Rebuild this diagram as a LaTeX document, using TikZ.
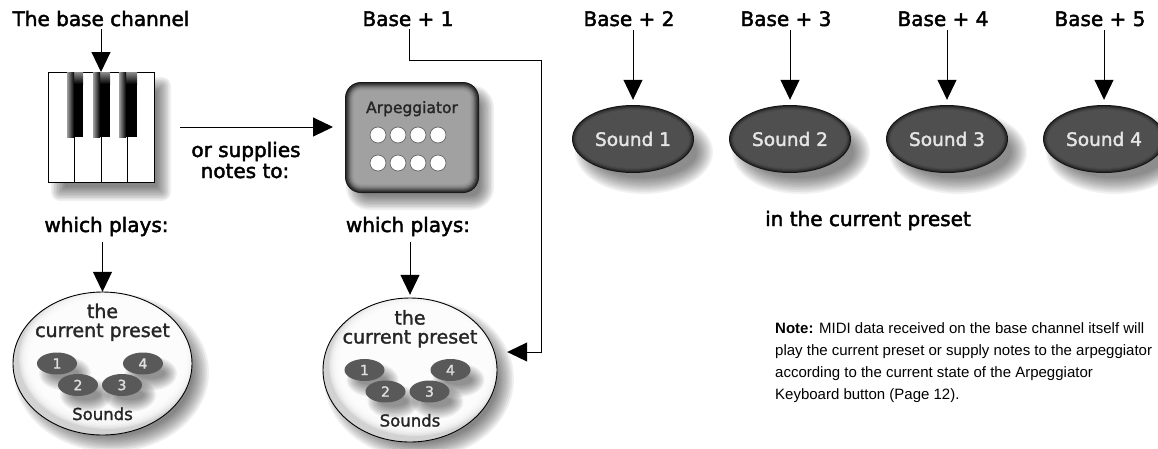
\documentclass[tikz,border=0pt]{standalone}
\usepackage{fontspec}
\setmainfont{DejaVu Sans}[FakeBold=2.2]
\newfontfamily\notefont{Liberation Sans}
\newfontfamily\techfont[FakeBold=1.6]{DejaVu Sans}
\newfontfamily\btnfont[FakeBold=2.0]{DejaVu Sans}
\usetikzlibrary{arrows.meta,shapes.geometric}

% soft shadow under an ellipse: centre x, centre y, rx, ry, blur, layer opacity
\newcommand\ellshadow[6]{%
  \foreach \k in {0,...,9}{%
    \pgfmathsetmacro\rxs{#3+#5*(1-\k/4.5)}%
    \pgfmathsetmacro\rys{#4+#5*(1-\k/4.5)}%
    \fill[black, opacity=#6] (#1,#2) ellipse [x radius=\rxs pt, y radius=\rys pt];
  }}

% soft shadow under a (rounded) rectangle: x1, y1, x2, y2, blur, corner, layer opacity
\newcommand\rectshadow[7]{%
  \foreach \k in {0,...,9}{%
    \pgfmathsetmacro\dd{#5*(1-\k/4.5)}%
    \pgfmathsetmacro\rc{max(#6+\dd,0.5)}%
    \fill[black, opacity=#7, rounded corners=\rc pt]
      ({#1-(\dd)},{#2-(\dd)}) rectangle ({#3+(\dd)},{#4+(\dd)});
  }}

% dark oval button with a caption: centre x, centre y, node name, caption
\newcommand\soundbtn[4]{%
  \ellshadow{#1+11}{#2+13}{61}{34}{8}{0.055}
  \foreach \k/\c in {0/92,1/84,2/78,3/74,4/71,5/69}{%
    \pgfmathsetmacro\rxs{61-\k}\pgfmathsetmacro\rys{34-\k}%
    \fill[black!\c] (#1,#2) ellipse [x radius=\rxs pt, y radius=\rys pt];}
  \node[ellipse, minimum width=122pt, minimum height=68pt, inner sep=0pt,
        text=white!90!black, font=\btnfont\fontsize{18.5}{20}\selectfont] (#3) at (#1,#2) {#4};
}

% white dome holding the preset with its four sounds: centre x, centre y, rx, ry, name
\newcommand\presetdome[5]{%
  \ellshadow{#1+9}{#2+9}{#3}{#4}{8}{0.06}
  \fill[white] (#1,#2) ellipse [x radius=#3pt, y radius=#4pt];
  \begin{scope}
    \clip (#1,#2) ellipse [x radius=#3pt, y radius=#4pt];
    \fill[gray!35] (#1,#2) ellipse [x radius=#3pt, y radius=#4pt];
    \foreach \k in {0,...,9}{%
      \pgfmathsetmacro\rxs{#3-1-1.3*\k}\pgfmathsetmacro\rys{#4-1-1.3*\k}%
      \fill[white, opacity=0.3] ({#1+5},{#2-5}) ellipse [x radius=\rxs pt, y radius=\rys pt];}
  \end{scope}
  \draw[line width=0.9pt] (#1,#2) ellipse [x radius=#3pt, y radius=#4pt];
  \pgfmathsetmacro\pw{2*#3}\pgfmathsetmacro\ph{2*#4}%
  \node[ellipse, inner sep=0pt, minimum width=\pw pt, minimum height=\ph pt] (#5) at (#1,#2) {};
  \node[techlbl] (#5the) at (#1,{#2-45.5}) {the};
  \node[techlbl] (#5cur) at (#1,{#2-26.5}) {current preset};
  \node[techlbl, font=\techfont\fontsize{16.5}{18}\selectfont] (#5snd) at (#1,{#2+56.5}) {Sounds};
  \foreach \dx/\dy in {-45.5/0, -24.5/21.5, 19.5/21.5, 40.5/0}{%
    \ellshadow{#1+\dx+8}{#2+\dy+10}{20}{11}{6}{0.05}}
  \foreach \dx/\dy/\n in {-45.5/0/1, -24.5/21.5/2, 19.5/21.5/3, 40.5/0/4}{%
    \node[ellipse, minimum width=40pt, minimum height=22pt, inner sep=0pt, fill=black!65,
          text=white!88!black, font=\techfont\fontsize{14}{14}\selectfont]
          (#5s\n) at ({#1+\dx},{#2+\dy}) {\n};}
}

\tikzset{
  lbl/.style={font=\fontsize{20}{24}\selectfont, inner sep=0pt, anchor=base},
  techlbl/.style={font=\techfont\fontsize{19}{22}\selectfont, inner sep=0pt, anchor=base, text=black!85},
  notetxt/.style={font=\notefont\fontsize{15}{18}\selectfont, inner sep=0pt, anchor=base west},
  arr/.style={line width=1pt, -{Triangle[length=20pt,width=19pt]}},
  holder/.style={inner sep=0pt, outer sep=0pt},
}

\begin{document}
\begin{tikzpicture}[x=1pt,y=-1pt]
\useasboundingbox (0,0) rectangle (1158,448);
\fill[white] (0,0) rectangle (1158,448);

% ---------- keyboard ----------
\rectshadow{58}{84}{164}{194}{7}{2}{0.06}
\fill[white] (48,72) rectangle (154,182);
\draw[line width=0.9pt] (48,72) rectangle (154,182);
\foreach \x in {74.5,101,127.5} \draw[line width=0.9pt] (\x,137) -- (\x,182);
\foreach \a/\b in {67/83,93/110,119/137}{%
  \fill[black] (\a,72) rectangle (\b,137);
  \shade[top color=gray!70, bottom color=black, opacity=0.85] (\a,72) rectangle (\b,84);
  \shade[left color=gray!75, right color=black] (\a,72) rectangle ({\a+7},137);
}
\node[holder, minimum width=106pt, minimum height=110pt] (kb) at (101,127) {};

% ---------- arpeggiator ----------
\rectshadow{353}{92}{487}{203}{7}{16}{0.06}
\foreach \k/\c in {0/90,1/82,2/74,3/66,4/58,5/51,6/46,7/42,8/39,9/37}{%
  \pgfmathsetmacro\rr{16-\k}%
  \fill[black!\c, rounded corners=\rr pt] ({345+\k},{82+\k}) rectangle ({479-\k},{193-\k});}
\node[holder, minimum width=134pt, minimum height=111pt] (arp) at (412,137.5) {};
\node[techlbl, font=\techfont\fontsize{15.5}{18}\selectfont] (arpname) at (412,113) {Arpeggiator};
\foreach \x in {378,398,418,438}
  \foreach \y in {135,163}
    \filldraw[fill=white, draw=black!60, line width=0.7pt] (\x,\y) circle [radius=8pt];

% ---------- sound buttons ----------
\soundbtn{633}{139}{s1}{Sound 1}
\soundbtn{790}{139}{s2}{Sound 2}
\soundbtn{947}{139}{s3}{Sound 3}
\soundbtn{1104}{139}{s4}{Sound 4}

% ---------- preset domes ----------
\presetdome{102.5}{363.5}{89.5}{71.5}{pa}
\presetdome{410}{370}{87}{72}{pb}

% ---------- labels ----------
\node[lbl] (bch) at (101,26) {The base channel};
\node[lbl] (b1) at (408,26) {Base + 1};
\node[lbl] (b2) at (629,26) {Base + 2};
\node[lbl] (b3) at (786,26) {Base + 3};
\node[lbl] (b4) at (943,26) {Base + 4};
\node[lbl] (b5) at (1100,26) {Base + 5};
\node[lbl] (or1) at (246,157) {or supplies};
\node[lbl] (or2) at (245,178) {notes to:};
\node[lbl] (wp1) at (106.5,232) {which plays:};
\node[lbl] (wp2) at (408,232) {which plays:};
\node[lbl] (cur) at (868,226) {in the current preset};

\node[notetxt] (n1) at (775,333) {\textbf{Note:} MIDI data received on the base channel itself will};
\node[notetxt] (n2) at (775,355) {play the current preset or supply notes to the arpeggiator};
\node[notetxt] (n3) at (775,377) {according to the current state of the Arpeggiator};
\node[notetxt] (n4) at (775,399) {Keyboard button (Page 12).};

% ---------- connectors ----------
\draw[arr, shorten <=3pt] (kb.north |- bch.south) -- (kb.north);
\draw[arr, shorten <=26pt, shorten >=12pt] (kb.east) -- (kb.east -| arp.west);
\draw[arr, shorten <=6pt] (pa.north |- wp1.south) -- (pa.north);
\draw[arr, shorten <=6pt, shorten >=3pt] (pb.north |- wp2.south) -- (pb.north);
\foreach \b/\s in {b2/s1,b3/s2,b4/s3,b5/s4}
  \draw[arr, shorten <=4pt, shorten >=5pt] (\s.north |- \b.south) -- (\s.north);
\coordinate (turnA) at (541,60);
\coordinate (turnB) at (541,352);
\draw[arr, shorten <=3pt] ([xshift=1pt]b1.south) -- ([xshift=1pt]b1.south |- turnA) -- (turnA) -- (turnB)
  -- ([xshift=10pt]turnB -| pb.east);
\end{tikzpicture}
\end{document}
